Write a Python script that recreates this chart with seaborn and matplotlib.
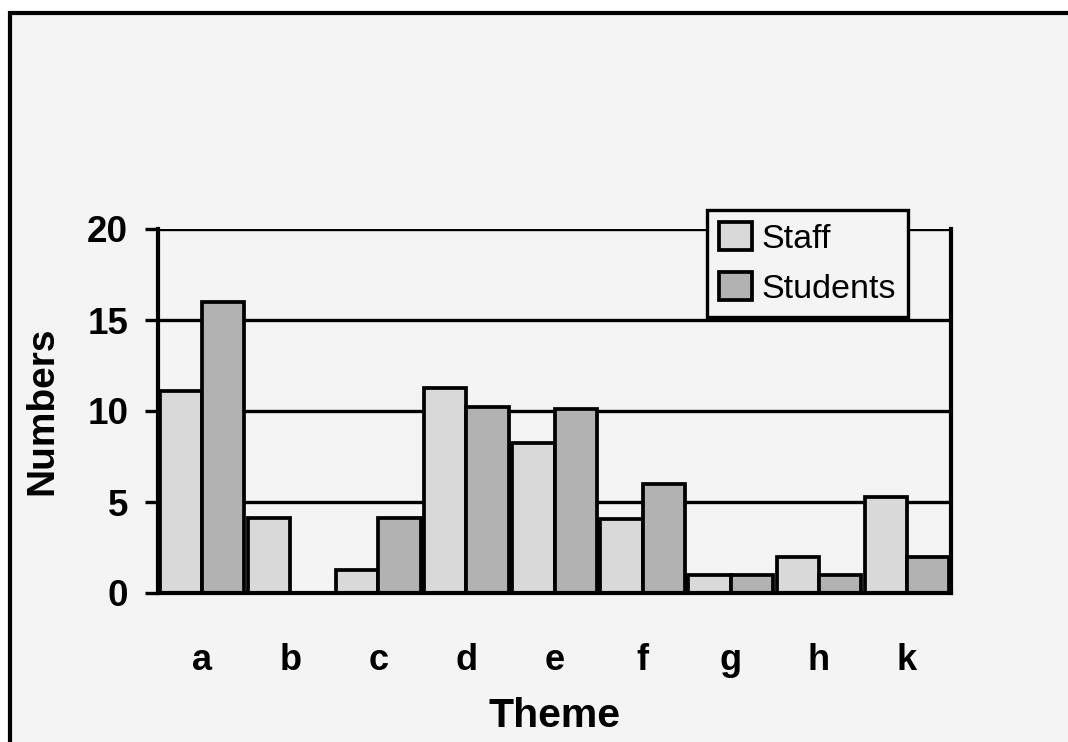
import pandas as pd
import matplotlib.pyplot as plt
import matplotlib.lines as mlines
import seaborn as sns

# Dados
temas = ['a', 'b', 'c', 'd', 'e', 'f', 'g', 'h', 'k']
staff = [11.1, 4.1, 1.25, 11.25, 8.25, 4.05, 1.0, 2.0, 5.3]
students = [16.0, 0.0, 4.1, 10.2, 10.1, 6.0, 1.0, 1.0, 2.0]
grupos = ['Staff', 'Students']
cores = ['#d9d9d9', '#b2b2b2']

df = pd.DataFrame({'Theme': temas * 2,
                   'Numbers': staff + students,
                   'Grupo': ['Staff'] * len(temas) + ['Students'] * len(temas)})

sns.set_style('white', {'text.color': 'black', 'axes.labelcolor': 'black',
                        'xtick.color': 'black', 'ytick.color': 'black'})
plt.rcParams['font.family'] = ['Liberation Sans', 'DejaVu Sans']

bg = '#f4f4f4'
fig = plt.figure(figsize=(10.68, 7.42), dpi=100, facecolor=bg)
# moldura da figura (só topo e esquerda visíveis), fora dela branco
x0, y0 = 10 / 1068, 1 - 13 / 742
fig.patches.append(plt.Rectangle((0, y0), 1, 1 - y0, transform=fig.transFigure,
                                 facecolor='white', edgecolor='none', zorder=-5))
fig.patches.append(plt.Rectangle((0, 0), x0, 1, transform=fig.transFigure,
                                 facecolor='white', edgecolor='none', zorder=-5))
fig.lines.append(mlines.Line2D([x0, x0, 1], [0, y0, y0], transform=fig.transFigure,
                               color='black', lw=3, solid_joinstyle='miter'))

ax = fig.add_axes([158 / 1068, (742 - 593) / 742, (951 - 158) / 1068, (593 - 229) / 742])
ax.set_facecolor(bg)

sns.barplot(data=df, x='Theme', y='Numbers', hue='Grupo', hue_order=grupos,
            palette=cores, width=0.96, edgecolor='black', linewidth=2.7,
            saturation=1, ax=ax, zorder=3)

ax.set_ylim(0, 20)
ax.set_xlim(-0.5, 8.5)
ax.set_yticks([0, 5, 10, 15, 20])
for v in [5, 10, 15, 20]:
    ax.axhline(v, color='black', lw=2.4, zorder=1)

for s in ['left', 'right', 'bottom']:
    ax.spines[s].set_visible(True)
    ax.spines[s].set_color('black')
    ax.spines[s].set_linewidth(3)
    ax.spines[s].set_zorder(4)
ax.spines['top'].set_visible(False)

ax.tick_params(axis='y', length=9.5, width=2.4, direction='out', left=True,
               labelsize=26.5, pad=12)
ax.tick_params(axis='x', length=0, labelsize=26, pad=36)
for lbl in ax.get_xticklabels() + ax.get_yticklabels():
    lbl.set_fontweight('bold')

ax.set_xlabel('Theme', fontsize=29.5, fontweight='bold', labelpad=14)
ax.set_ylabel('Numbers', fontsize=28, fontweight='bold', labelpad=19)

leg = ax.legend(loc='upper right', bbox_to_anchor=(0.946, 1.052), fontsize=24.5,
                frameon=True, fancybox=False, edgecolor='black', facecolor=bg,
                framealpha=1, handlelength=0.95, handleheight=0.9,
                handletextpad=0.3, labelspacing=0.5, borderpad=0.35,
                borderaxespad=0)
leg.get_frame().set_linewidth(2.4)
for h in leg.legend_handles:
    h.set_linewidth(2.7)
leg.set_zorder(5)

fig.savefig('out.png', dpi=100, facecolor=bg)
